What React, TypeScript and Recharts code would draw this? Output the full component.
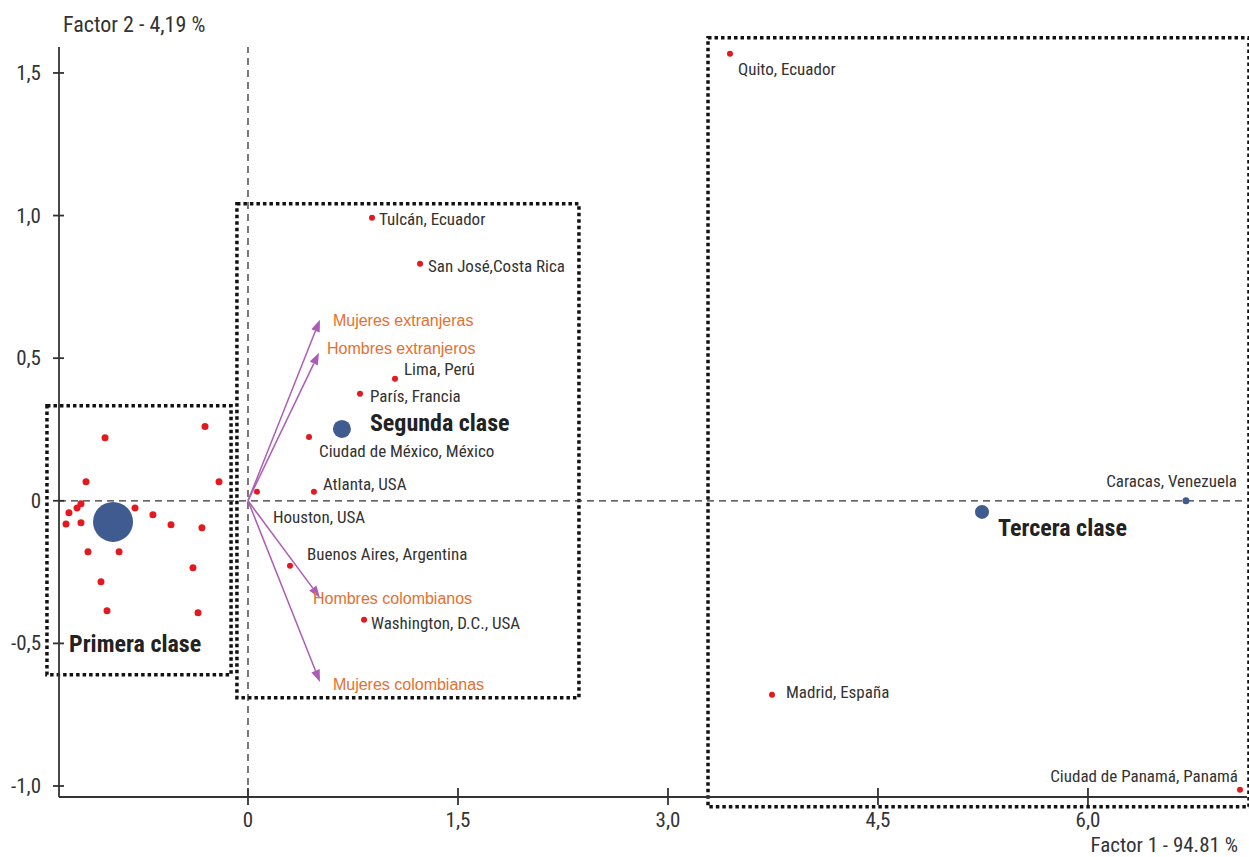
import React from 'react';
import { ScatterChart, Scatter, XAxis, YAxis, ReferenceLine, ReferenceArea } from 'recharts';

// ---------- data ----------
const X_DOMAIN: [number, number] = [-1.35, 7.136];
const Y_DOMAIN: [number, number] = [-1.0386, 1.591];
const X_TICKS = [0, 1.5, 3.0, 4.5, 6.0];
const Y_TICKS = [-1.0, -0.5, 0, 0.5, 1.0, 1.5];

const labeledCities = [
  { name: 'Quito, Ecuador', x: 3.443, y: 1.567 },
  { name: 'Tulcán, Ecuador', x: 0.886, y: 0.992 },
  { name: 'San José,Costa Rica', x: 1.229, y: 0.831 },
  { name: 'Lima, Perú', x: 1.05, y: 0.428 },
  { name: 'París, Francia', x: 0.8, y: 0.375 },
  { name: 'Ciudad de México, México', x: 0.436, y: 0.224 },
  { name: 'Atlanta, USA', x: 0.471, y: 0.032 },
  { name: 'Houston, USA', x: 0.064, y: 0.032 },
  { name: 'Buenos Aires, Argentina', x: 0.3, y: -0.228 },
  { name: 'Washington, D.C., USA', x: 0.829, y: -0.417 },
  { name: 'Madrid, España', x: 3.743, y: -0.68 },
  { name: 'Ciudad de Panamá, Panamá', x: 7.086, y: -1.013 },
];

const caracas = [{ name: 'Caracas, Venezuela', x: 6.7, y: 0.0 }];

const primeraCities = [
  { x: -1.021, y: 0.221 },
  { x: -0.307, y: 0.26 },
  { x: -1.157, y: 0.067 },
  { x: -0.207, y: 0.067 },
  { x: -1.193, y: -0.01 },
  { x: -1.221, y: -0.025 },
  { x: -1.279, y: -0.042 },
  { x: -1.3, y: -0.081 },
  { x: -1.193, y: -0.077 },
  { x: -0.807, y: -0.025 },
  { x: -0.679, y: -0.049 },
  { x: -0.55, y: -0.084 },
  { x: -0.329, y: -0.095 },
  { x: -1.143, y: -0.179 },
  { x: -0.921, y: -0.179 },
  { x: -0.393, y: -0.235 },
  { x: -1.05, y: -0.284 },
  { x: -1.007, y: -0.386 },
  { x: -0.357, y: -0.393 },
];

const classes = [
  { name: 'Primera clase', x: -0.964, y: -0.074 },
  { name: 'Segunda clase', x: 0.671, y: 0.252 },
  { name: 'Tercera clase', x: 5.243, y: -0.039 },
];

const variables = [
  { name: 'Mujeres extranjeras', x: 0.514, y: 0.635 },
  { name: 'Hombres extranjeros', x: 0.507, y: 0.519 },
  { name: 'Hombres colombianos', x: 0.514, y: -0.34 },
  { name: 'Mujeres colombianas', x: 0.514, y: -0.635 },
];

const clusterBoxes = [
  { name: 'Primera', x1: -1.436, x2: -0.121, y1: -0.61, y2: 0.333 },
  { name: 'Segunda', x1: -0.079, x2: 2.364, y1: -0.691, y2: 1.041 },
  { name: 'Tercera', x1: 3.286, x2: 7.15, y1: -1.073, y2: 1.623 },
];

// ---------- styles ----------
const NARROW = "'Liberation Sans Narrow', 'Arial Narrow', 'Roboto Condensed', Roboto, 'Liberation Sans', Arial, sans-serif";
const REGULAR = "'Liberation Sans', Arial, sans-serif";
const RED = '#e3191f';
const NAVY = '#3f5b8f';
const PURPLE = '#ad5cb5';
const ORANGE = '#e4702f';
const TEXT = '#333333';
const AXIS = '#333333';

const cityLabelOffsets: Record<string, { dx: number; dy: number; anchor?: string }> = {
  'Quito, Ecuador': { dx: 8, dy: 15 },
  'Tulcán, Ecuador': { dx: 7, dy: 1 },
  'San José,Costa Rica': { dx: 8, dy: 2 },
  'Lima, Perú': { dx: 9, dy: -10 },
  'París, Francia': { dx: 10, dy: 2 },
  'Ciudad de México, México': { dx: 10, dy: 14 },
  'Atlanta, USA': { dx: 9, dy: -8 },
  'Houston, USA': { dx: 16, dy: 25 },
  'Buenos Aires, Argentina': { dx: 17, dy: -12 },
  'Washington, D.C., USA': { dx: 7, dy: 3 },
  'Madrid, España': { dx: 14, dy: -3 },
  'Ciudad de Panamá, Panamá': { dx: -2, dy: -14, anchor: 'end' },
  'Caracas, Venezuela': { dx: 51, dy: -20, anchor: 'end' },
};

const classStyle: Record<string, { r: number; dx: number; dy: number }> = {
  'Primera clase': { r: 20, dx: -44, dy: 122 },
  'Segunda clase': { r: 9, dx: 28, dy: -6 },
  'Tercera clase': { r: 7, dx: 16, dy: 16 },
};

const variableLabelOffsets: Record<string, { dx: number; dy: number }> = {
  'Mujeres extranjeras': { dx: 13, dy: 1 },
  'Hombres extranjeros': { dx: 8, dy: -4 },
  'Hombres colombianos': { dx: -7, dy: 1 },
  'Mujeres colombianas': { dx: 13, dy: 3 },
};

const fmt = (v: number) => (v === 0 ? '0' : v.toFixed(1).replace('.', ','));

const cityShape = (color: string, r: number) => (props: any) => {
  const { cx, cy, payload } = props;
  const off = payload && payload.name ? cityLabelOffsets[payload.name] : null;
  return (
    <g>
      <circle cx={cx} cy={cy} r={r} fill={color} />
      {off && (
        <text
          x={cx + off.dx}
          y={cy + off.dy}
          textAnchor={(off.anchor as any) || 'start'}
          dominantBaseline="central"
          fontFamily={NARROW}
          fontSize={17}
          fill={TEXT}
        >
          {payload.name}
        </text>
      )}
    </g>
  );
};

const classShape = (props: any) => {
  const { cx, cy, payload } = props;
  const st = classStyle[payload.name];
  return (
    <g>
      <circle cx={cx} cy={cy} r={st.r} fill={NAVY} />
      <text
        x={cx + st.dx}
        y={cy + st.dy}
        dominantBaseline="central"
        fontFamily={NARROW}
        fontWeight="bold"
        fontSize={24}
        fill="#222"
      >
        {payload.name}
      </text>
    </g>
  );
};

const arrowShape = (name: string) => (props: any) => {
  const { x1, y1, x2, y2 } = props;
  const ang = Math.atan2(y2 - y1, x2 - x1);
  const len = 12;
  const hw = 4.5;
  const bx = x2 - len * Math.cos(ang);
  const by = y2 - len * Math.sin(ang);
  const px = -Math.sin(ang) * hw;
  const py = Math.cos(ang) * hw;
  const off = variableLabelOffsets[name];
  return (
    <g>
      <line x1={x1} y1={y1} x2={bx} y2={by} stroke={PURPLE} strokeWidth={1.5} />
      <polygon points={`${x2},${y2} ${bx + px},${by + py} ${bx - px},${by - py}`} fill={PURPLE} />
      <text
        x={x2 + off.dx}
        y={y2 + off.dy}
        dominantBaseline="central"
        fontFamily={REGULAR}
        fontSize={16}
        fill={ORANGE}
      >
        {name}
      </text>
    </g>
  );
};

const Y_TICK_MARGIN = 18;
const X_TICK_MARGIN = 20;

const YTick = (props: any) => {
  const { x, y, payload } = props;
  const ax = x + Y_TICK_MARGIN;
  return (
    <g>
      <line x1={ax - 6} x2={ax + 5} y1={y} y2={y} stroke={AXIS} strokeWidth={1.8} />
      <text x={x} y={y} textAnchor="end" dominantBaseline="central" fontFamily={NARROW} fontSize={21} fill={TEXT}>
        {fmt(payload.value)}
      </text>
    </g>
  );
};

const XTick = (props: any) => {
  const { x, y, payload } = props;
  const ay = y - X_TICK_MARGIN;
  return (
    <g>
      <line x1={x} x2={x} y1={ay - 9} y2={ay + 8} stroke={AXIS} strokeWidth={1.8} />
      <text x={x} y={y + 3} textAnchor="middle" dominantBaseline="central" fontFamily={NARROW} fontSize={21} fill={TEXT}>
        {fmt(payload.value)}
      </text>
    </g>
  );
};

export default function App() {
  return (
    <div style={{ position: 'absolute', left: 0, top: 0, width: 1249, height: 857, background: '#fff', overflow: 'hidden' }}>
      <ScatterChart width={1249} height={857} margin={{ top: 47, right: 2, bottom: 0, left: 0 }}>
        <XAxis
          type="number"
          dataKey="x"
          domain={X_DOMAIN}
          ticks={X_TICKS}
          allowDataOverflow
          height={60}
          tickSize={0}
          tickMargin={X_TICK_MARGIN}
          tickLine={false}
          tick={XTick}
          axisLine={{ stroke: AXIS, strokeWidth: 1.8 }}
        />
        <XAxis
          xAxisId="top"
          orientation="top"
          type="number"
          domain={X_DOMAIN}
          allowDataOverflow
          height={0}
          tick={false}
          tickLine={false}
          axisLine={{ stroke: AXIS, strokeWidth: 1.8 }}
        />
        <YAxis
          type="number"
          dataKey="y"
          domain={Y_DOMAIN}
          ticks={Y_TICKS}
          allowDataOverflow
          width={59}
          tickSize={0}
          tickMargin={Y_TICK_MARGIN}
          tickLine={false}
          tick={YTick}
          axisLine={{ stroke: AXIS, strokeWidth: 1.8 }}
        />
        <YAxis
          yAxisId="right"
          orientation="right"
          type="number"
          domain={Y_DOMAIN}
          allowDataOverflow
          width={0}
          tick={false}
          tickLine={false}
          axisLine={{ stroke: AXIS, strokeWidth: 1.8 }}
        />

        <ReferenceLine x={0} stroke="#333" strokeWidth={1.3} strokeDasharray="7 5" />
        <ReferenceLine y={0} stroke="#333" strokeWidth={1.3} strokeDasharray="7 5" />

        {clusterBoxes.map((b) => (
          <ReferenceArea
            key={b.name}
            x1={b.x1}
            x2={b.x2}
            y1={b.y1}
            y2={b.y2}
            ifOverflow="visible"
            fill="none"
            fillOpacity={0}
            stroke="#111"
            strokeWidth={3.5}
            strokeDasharray="3.5 3"
          />
        ))}

        {variables.map((v) => (
          <ReferenceLine
            key={v.name}
            segment={[{ x: 0, y: 0 }, { x: v.x, y: v.y }]}
            shape={arrowShape(v.name)}
          />
        ))}

        <Scatter data={primeraCities} isAnimationActive={false} shape={cityShape(RED, 3.5)} />
        <Scatter data={labeledCities} isAnimationActive={false} shape={cityShape(RED, 3)} />
        <Scatter data={caracas} isAnimationActive={false} shape={cityShape(NAVY, 3.5)} />
        <Scatter data={classes} isAnimationActive={false} shape={classShape} />
      </ScatterChart>

      <div
        style={{
          position: 'absolute',
          left: 63,
          top: 12,
          fontFamily: NARROW,
          fontSize: 22,
          color: TEXT,
          whiteSpace: 'nowrap',
          lineHeight: '26px',
        }}
      >
        Factor 2 - 4,19 %
      </div>
      <div
        style={{
          position: 'absolute',
          right: 1249 - 1238,
          top: 834,
          fontFamily: NARROW,
          fontSize: 21,
          color: TEXT,
          whiteSpace: 'nowrap',
          lineHeight: '22px',
        }}
      >
        Factor 1 - 94.81 %
      </div>
    </div>
  );
}
